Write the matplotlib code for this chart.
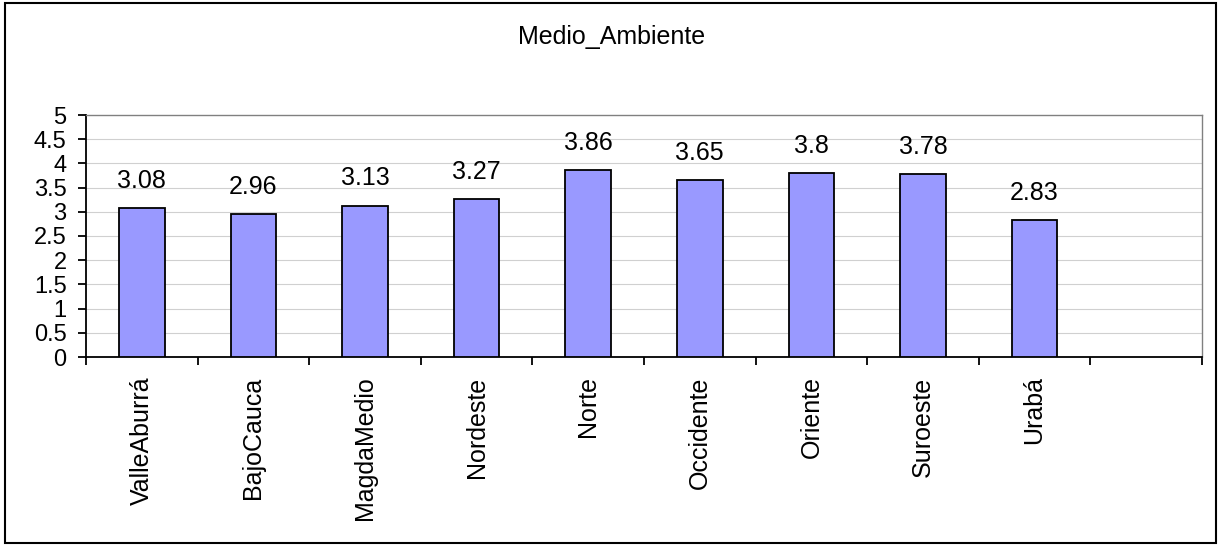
import matplotlib
matplotlib.use("Agg")
import matplotlib.pyplot as plt
from matplotlib.patches import Rectangle
import numpy as np

categories = ["ValleAburrá", "BajoCauca", "MagdaMedio", "Nordeste", "Norte",
              "Occidente", "Oriente", "Suroeste", "Urabá", ""]
values = [3.08, 2.96, 3.13, 3.27, 3.86, 3.65, 3.8, 3.78, 2.83, None]
labels = ["3.08", "2.96", "3.13", "3.27", "3.86", "3.65", "3.8", "3.78", "2.83", ""]
yticks = [0, 0.5, 1, 1.5, 2, 2.5, 3, 3.5, 4, 4.5, 5]
ytick_labels = ["0", "0.5", "1", "1.5", "2", "2.5", "3", "3.5", "4", "4.5", "5"]

plt.rcParams['font.family'] = ['Liberation Sans', 'DejaVu Sans']

W, H = 1220, 546
fig = plt.figure(figsize=(W / 100, H / 100), dpi=100)
fig.patches.append(Rectangle((5 / W, 3 / H), 1211 / W, 540 / H, transform=fig.transFigure,
                             fill=False, edgecolor='black', linewidth=1.5, zorder=0))

left, right, top, bottom = 86, 1202, 115, 357
ax = fig.add_axes([left / W, 1 - bottom / H, (right - left) / W, (bottom - top) / H])

n = len(categories)
x = np.arange(n)
vals = [v for v in values if v is not None]
xi = x[:len(vals)]
ax.bar(xi, vals, width=0.41, color='#9999FF', edgecolor='black', linewidth=1.3, zorder=3)
for xv, v, lab in zip(xi, vals, labels):
    ax.annotate(lab, (xv, v), xytext=(0, 14.5), textcoords='offset points',
                ha='center', va='baseline', fontsize=18)

ax.set_xlim(-0.5, n - 0.5)
ax.set_ylim(0, 5)
ax.set_yticks(yticks)
ax.set_yticklabels(ytick_labels, fontsize=17)
for y in yticks[1:-1]:
    ax.axhline(y, color='#d0d0d0', linewidth=0.8, zorder=1)

ax.set_xticks(x)
ax.set_xticklabels(categories, rotation=90, fontsize=18, va='top')
ax.tick_params(axis='x', length=0, pad=14)
ax.set_xticks(np.arange(-0.5, n, 1), minor=True)
ax.tick_params(axis='x', which='minor', length=6, width=1.3, direction='out')
ax.tick_params(axis='y', length=6, width=1.3, direction='out', pad=8)

ax.spines['left'].set_linewidth(1.3)
ax.spines['bottom'].set_linewidth(1.3)
ax.spines['top'].set_color('#808080')
ax.spines['right'].set_color('#808080')
ax.spines['top'].set_linewidth(1.0)
ax.spines['right'].set_linewidth(1.0)

fig.text(612 / W, 1 - 37 / H, "Medio_Ambiente", ha='center', va='center', fontsize=18)

fig.savefig("out.png", dpi=100)
